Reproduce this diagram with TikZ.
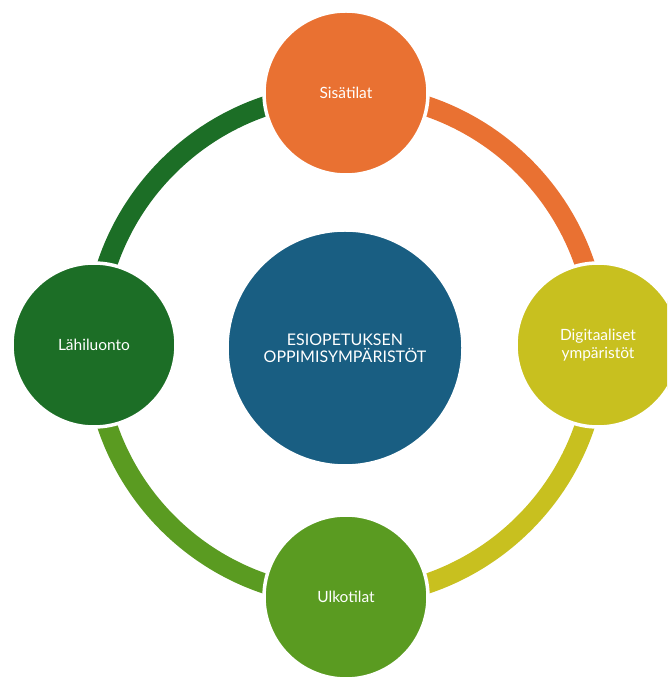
\documentclass[tikz,border=0pt]{standalone}
\usepackage{fontspec}
\setmainfont{Lato}
\usetikzlibrary{calc}
\definecolor{cOrange}{HTML}{E97132}
\definecolor{cYellow}{HTML}{C8C01F}
\definecolor{cLight}{HTML}{5A9B21}
\definecolor{cDark}{HTML}{1C6E26}
\definecolor{cBlue}{HTML}{195E82}
\begin{document}
\begin{tikzpicture}[x=1pt,y=1pt,
  bubble/.style={circle, draw=white, line width=3.5pt, text=white, align=center,
     font=\fontsize{15.5}{18}\selectfont, inner sep=0pt},
  small/.style={bubble, minimum size=164pt},
  ringarc/.style={line width=20pt}]
\clip (0,0) rectangle (667,677);
\fill[white] (0,0) rectangle (667,677);
\coordinate (ringc) at (346,332);
\coordinate (ptop) at ($(ringc)+(90:252)$);
\coordinate (pright) at ($(ringc)+(0:252)$);
\coordinate (pbottom) at ($(ringc)+(270:252)$);
\coordinate (pleft) at ($(ringc)+(180:252)$);
% ring
\draw[ringarc, cOrange] (ptop) arc[start angle=90, end angle=0, radius=252pt];
\draw[ringarc, cYellow] (pright) arc[start angle=360, end angle=270, radius=252pt];
\draw[ringarc, cLight] (pbottom) arc[start angle=270, end angle=180, radius=252pt];
\draw[ringarc, cDark] (pleft) arc[start angle=180, end angle=90, radius=252pt];
% nodes
\node[small, fill=cOrange] (top) at (ptop) {Sisätilat};
\node[small, fill=cYellow] (right) at (pright) {Digitaaliset\\ympäristöt};
\node[small, fill=cLight] (bottom) at (pbottom) {Ulkotilat};
\node[small, fill=cDark] (left) at (pleft) {Lähiluonto};
\node[bubble, fill=cBlue, minimum size=236pt, font=\fontsize{16}{17}\selectfont] (center) at (345,329) {ESIOPETUKSEN\\OPPIMISYMPÄRISTÖT};
\end{tikzpicture}
\end{document}
